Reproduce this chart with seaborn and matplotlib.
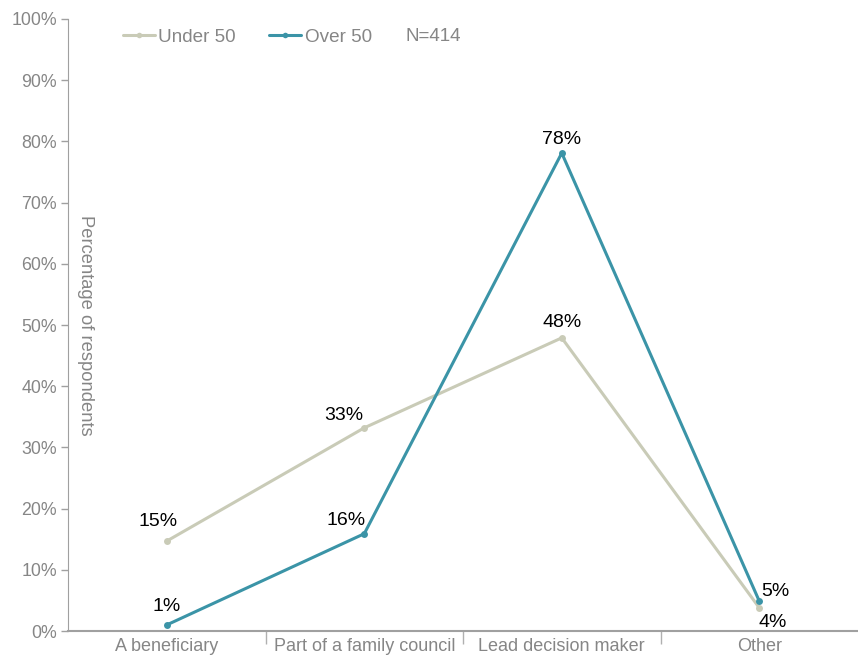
import pandas as pd
import seaborn as sns
import matplotlib.pyplot as plt
from matplotlib.ticker import FixedLocator, PercentFormatter

# Chart values
categories = ['A beneficiary', 'Part of a family council', 'Lead decision maker', 'Other']
under_50 = [14.7, 33.2, 47.9, 3.8]
over_50 = [1.0, 15.9, 78.1, 4.9]
under_labels = ['15%', '33%', '48%', '4%']
over_labels = ['1%', '16%', '78%', '5%']

colors = {'Under 50': '#c9cbb7', 'Over 50': '#3b94a7'}
grey = '#868686'

df = pd.DataFrame({
    'Role': categories * 2,
    'Value': under_50 + over_50,
    'Group': ['Under 50'] * 4 + ['Over 50'] * 4,
})

sns.set_style('white')
plt.rcParams['font.family'] = ['Liberation Sans', 'DejaVu Sans']

fig = plt.figure(figsize=(8.58, 6.55), dpi=100)
ax = fig.add_axes([0.0793, 0.0366, 0.9207, 0.9344])

sns.lineplot(data=df, x='Role', y='Value', hue='Group', palette=colors,
             marker='o', markersize=5, markeredgewidth=0, linewidth=2.2,
             sort=False, ax=ax, legend=False)

ax.set_xlim(-0.5, 3.5)
ax.set_ylim(0, 100)
ax.yaxis.set_major_locator(FixedLocator(range(0, 101, 10)))
ax.yaxis.set_major_formatter(PercentFormatter(decimals=0))

for s in ['top', 'right']:
    ax.spines[s].set_visible(False)
ax.spines['left'].set_color('#a0a0a0')
ax.spines['bottom'].set_color('#a0a0a0')
ax.spines['bottom'].set_linewidth(1.5)

ax.tick_params(axis='y', colors=grey, labelsize=12.8, length=5, width=1, left=True, pad=3)
ax.tick_params(axis='y', color='#a0a0a0')
ax.set_xticks(range(4))
ax.set_xticklabels(categories, color=grey, fontsize=13)
ax.tick_params(axis='x', length=0, pad=5)
ax.set_xticks([0.5, 1.5, 2.5], minor=True)
ax.tick_params(axis='x', which='minor', length=9, width=1, color='#b0b0b0', bottom=True)
ax.set_xlabel('')
ax.set_ylabel('')

# y-axis title drawn inside the plot
ax.text(0.0215, 0.50, 'Percentage of respondents', transform=ax.transAxes,
        rotation=-90, color=grey, fontsize=13.2, ha='center', va='center')

# data labels
under_off = [(-6.5, 14.4), (-15, 8.6), (0, 11), (9.5, -10.5)]
over_off = [(0, 13), (-13, 9.4), (0, 10), (11.5, 7.2)]
for i in range(4):
    ax.annotate(under_labels[i], (i, under_50[i]), xytext=under_off[i],
                textcoords='offset points', ha='center', va='center', fontsize=14, color='black')
    ax.annotate(over_labels[i], (i, over_50[i]), xytext=over_off[i],
                textcoords='offset points', ha='center', va='center', fontsize=14, color='black')

# legend
handles = [plt.Line2D([], [], color=colors[g], lw=2.2, marker='o', markersize=4,
                      markeredgewidth=0) for g in ['Under 50', 'Over 50']]
leg = ax.legend(handles, ['Under 50', 'Over 50'], loc='upper left', ncol=2,
                bbox_to_anchor=(0.0475, 1.012), frameon=False, fontsize=13.6,
                handlelength=1.7, handletextpad=0.2, columnspacing=1.75)
for t in leg.get_texts():
    t.set_color(grey)
ax.text(0.427, 0.971, 'N=414', transform=ax.transAxes, color=grey, fontsize=13.6,
        ha='left', va='center')

plt.savefig('out.png', dpi=100)
plt.close()
